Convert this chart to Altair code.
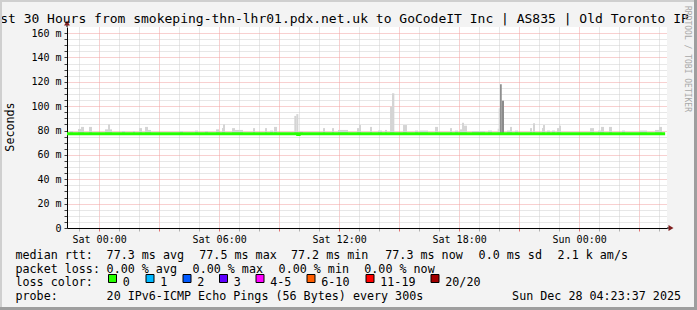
import altair as alt
import pandas as pd

# ---------------- data (hours relative to Sat 00:00, values in ms) ----------------
x_domain = [-1.6064, 28.3936]          # Fri 22:23:37 .. Sun 04:23:37 (30 h)
y_domain = [0, 165]

x_grid_hours = list(range(-1, 29))     # hourly grid / tick positions
x_label_hours = [0, 6, 12, 18, 24]
x_labels = ["Sat 00:00", "Sat 06:00", "Sat 12:00", "Sat 18:00", "Sun 00:00"]

y_grid = list(range(0, 161, 5))
y_label_values = [0, 20, 40, 60, 80, 100, 120, 140, 160]
y_labels = ["0", "20 m", "40 m", "60 m", "80 m", "100 m", "120 m", "140 m", "160 m"]

smoke_start = [-1.455, -1.055, -0.905, -0.505, 0.295, 0.445, 0.545, 1.145, 1.695, 1.995,
               2.295, 2.445, 4.045, 4.795, 5.295, 5.845, 6.145, 6.195, 6.645, 6.795,
               7.695, 8.295, 8.545, 8.745, 9.76, 9.86, 10.045, 11.195, 11.645, 11.945,
               12.895, 12.995, 13.545, 13.945, 14.295, 14.545, 14.645, 15.195, 15.795, 16.045,
               16.795, 17.545, 17.795, 18.045, 18.145, 18.245, 18.645, 19.445, 19.93, 19.98,
               20.045, 20.13, 20.395, 20.545, 20.795, 21.545, 21.695, 22.145, 22.195, 22.395,
               22.645, 22.895, 22.995, 24.545, 24.945, 25.095, 25.495, 26.145, 27.045, 27.795,
               27.995]
smoke_end = [-1.305, -0.905, -0.755, -0.355, 0.445, 0.545, 0.645, 1.295, 1.795, 2.145,
             2.445, 2.595, 4.195, 4.945, 5.445, 5.995, 6.195, 6.295, 6.795, 7.195,
             7.795, 8.395, 8.695, 8.895, 9.86, 9.96, 10.195, 11.295, 11.745, 12.445,
             12.995, 13.095, 13.645, 14.145, 14.395, 14.645, 14.76, 15.395, 15.945, 16.445,
             16.945, 17.645, 17.945, 18.145, 18.245, 18.395, 19.295, 19.645, 19.98, 20.045,
             20.13, 20.245, 20.545, 20.645, 20.945, 21.645, 21.795, 22.195, 22.295, 22.545,
             22.795, 22.995, 23.095, 24.745, 25.095, 25.245, 25.645, 26.295, 27.395, 27.995,
             28.145]
smoke_top = [79.6, 81.3, 83, 83, 81, 85, 81, 79.6, 79.6, 82,
             83, 80.5, 79.5, 80, 79.5, 81, 82, 85, 82, 80.5,
             82, 82, 80, 83, 92, 93.5, 79, 82, 82, 80.5,
             82, 84.5, 83, 80, 80.5, 99.6, 110.6, 84.5, 80, 80,
             83, 82, 80, 81, 86.4, 84, 79.5, 80, 81.5, 98.3,
             118, 104.5, 80, 83, 80, 82, 86, 82, 84.5, 80,
             80, 82, 84, 82, 80, 83, 83, 80, 80, 80.5,
             83]
smoke_shade = ["light"] * 50 + ["dark", "dark"] + ["light"] * 19
smoke_floor = 77.0

median_t = [-1.6064, 9.93, 10.0, 28.30]
median_v = [77.3, 76.8, 77.3, 77.3]

title_text = "Last 30 Hours from smokeping-thn-lhr01.pdx.net.uk to GoCodeIT Inc | AS835 | Old Toronto IP"
rtt_row = ["median rtt:", "77.3 ms avg", "77.5 ms max", "77.2 ms min", "77.3 ms now", "0.0 ms sd", "2.1 k am/s"]
loss_row = ["packet loss:", "0.00 % avg", "0.00 % max", "0.00 % min", "0.00 % now"]
loss_labels = ["0", "1", "2", "3", "4-5", "6-10", "11-19", "20/20"]
loss_colors = ["#26ff00", "#00b8ff", "#0059ff", "#5e00ff", "#ff00ff", "#ff5e00", "#ff0000", "#a10000"]
probe_row = ["probe:", "20 IPv6-ICMP Echo Pings (56 Bytes) every 300s"]
stamp = "Sun Dec 28 04:23:37 2025"

# ---------------- layout ----------------
OX, OY = 67, 27
W, H = 600, 201
FONT = "DejaVu Sans Mono"

x_scale = alt.Scale(domain=x_domain, nice=False, zero=False)
y_scale = alt.Scale(domain=y_domain, nice=False, zero=False)


def chain_expr(vals, labs):
    e = "''"
    for v, l in reversed(list(zip(vals, labs))):
        e = f"datum.value === {v} ? '{l}' : ({e})"
    return e


x_axis = alt.Axis(values=x_grid_hours, labelExpr=chain_expr(x_label_hours, x_labels),
                  grid=True, gridDash=[1, 1], gridWidth=1,
                  gridColor={"condition": {"test": "datum.value % 3 === 0", "value": "#f0a0a0"}, "value": "#cfcfcf"},
                  tickColor={"condition": {"test": "datum.value % 3 === 0", "value": "#e07070"}, "value": "#b0b0b0"},
                  tickSize=3, domainColor="#000000", labelFont=FONT, labelFontSize=10, labelColor="#000000",
                  labelPadding=3, labelFlush=False, labelOverlap=False, labelAngle=0, title=None)
y_axis = alt.Axis(values=y_grid, labelExpr=chain_expr(y_label_values, y_labels),
                  grid=True, gridDash=[1, 1], gridWidth=1,
                  gridColor={"condition": {"test": "datum.value % 20 === 0", "value": "#f0a0a0"}, "value": "#cfcfcf"},
                  tickColor="#404040", tickSize=3, domainColor="#000000", labelFont=FONT, labelFontSize=10,
                  labelColor="#000000", labelPadding=3, labelOverlap=False, labelFlush=False, title=None)

smoke_df = pd.DataFrame({"start": smoke_start, "end": smoke_end, "top": smoke_top,
                         "low": [smoke_floor] * len(smoke_top), "shade": smoke_shade})
smoke = alt.Chart(smoke_df).mark_rect().encode(
    x=alt.X("start:Q", scale=x_scale, axis=x_axis), x2="end:Q",
    y=alt.Y("low:Q", scale=y_scale, axis=y_axis), y2="top:Q",
    color=alt.Color("shade:N", scale=alt.Scale(domain=["light", "dark"], range=["#d4d4d4", "#8c8c8c"]), legend=None),
)

med_df = pd.DataFrame({"t": median_t, "v": median_v})
median = alt.Chart(med_df).mark_line(color="#26ff00", strokeWidth=3, interpolate="step-after", strokeCap="butt").encode(
    x=alt.X("t:Q", scale=x_scale, axis=x_axis), y=alt.Y("v:Q", scale=y_scale, axis=y_axis))

one = pd.DataFrame({"a": [0]})
x_ext = alt.Chart(one).mark_rule(color="#000000", x2Offset=2).encode(
    x=alt.X(datum=x_domain[1], scale=x_scale, axis=x_axis), x2=alt.X2(datum=x_domain[1]),
    y=alt.Y(datum=0, scale=y_scale, axis=y_axis))
x_arrow = alt.Chart(one).mark_point(shape="triangle-right", filled=True, size=34, color="#7f1f1f", opacity=1, xOffset=4).encode(
    x=alt.X(datum=x_domain[1], scale=x_scale, axis=x_axis), y=alt.Y(datum=0, scale=y_scale, axis=y_axis))
y_ext = alt.Chart(one).mark_rule(color="#000000", y2Offset=-3).encode(
    x=alt.X(datum=x_domain[0], scale=x_scale, axis=x_axis),
    y=alt.Y(datum=y_domain[1], scale=y_scale, axis=y_axis), y2=alt.Y2(datum=y_domain[1]))
y_arrow = alt.Chart(one).mark_point(shape="triangle-up", filled=True, size=34, color="#7f1f1f", opacity=1, yOffset=-4).encode(
    x=alt.X(datum=x_domain[0], scale=x_scale, axis=x_axis), y=alt.Y(datum=y_domain[1], scale=y_scale, axis=y_axis))

layers = [smoke, median, x_ext, x_arrow, y_ext, y_arrow]


def txt(s, px, py, size=11.7, align="left", angle=0, color="#000000", baseline="alphabetic"):
    return alt.Chart(pd.DataFrame({"t": [s]})).mark_text(
        align=align, baseline=baseline, font=FONT, fontSize=size, color=color, angle=angle).encode(
        x=alt.value(px - OX), y=alt.value(py - OY), text="t:N")


def box(px0, py0, px1, py1, fill, stroke=None):
    kw = dict(fill=fill)
    if stroke:
        kw.update(stroke=stroke, strokeWidth=1)
    return alt.Chart(one).mark_rect(**kw).encode(
        x=alt.value(px0 - OX), x2=alt.value(px1 - OX), y=alt.value(py0 - OY), y2=alt.value(py1 - OY))


layers.append(txt(title_text, -15.5, 22.7, size=13))
layers.append(txt("Seconds", 14, 127, angle=270, align="center"))
layers.append(txt("RRDTOOL / TOBI OETIKER", 685, 59, size=8, angle=90, align="center", color="#a8a8a8"))

# frame
layers += [box(0, 0, 697, 2, "#cfcfcf"), box(0, 0, 2, 310, "#cfcfcf"),
           box(694, 0, 697, 310, "#9e9e9e"), box(0, 307, 697, 310, "#9e9e9e")]

rtt_x = [15.5, 106.6, 199.3, 291, 385.3, 478.6, 557.6]
for s, px in zip(rtt_row, rtt_x):
    layers.append(txt(s, px, 258.7))
loss_x = [15.5, 106.6, 192.6, 278.6, 364.3]
for s, px in zip(loss_row, loss_x):
    layers.append(txt(s, px, 272.5))
layers.append(txt("loss color:", 15.5, 286.3))
box_x = [108.5, 146, 183, 219.5, 256, 307, 366, 431]
for lab, col, bx in zip(loss_labels, loss_colors, box_x):
    layers.append(box(bx, 274.5, bx + 8, 282.5, col, stroke="#000000"))
    layers.append(txt(lab, bx + 14.3, 286.3))
layers.append(txt(probe_row[0], 15.5, 300))
layers.append(txt(probe_row[1], 106.6, 300))
layers.append(txt(stamp, 681, 300, align="right"))

chart = alt.layer(*layers).properties(
    width=W, height=H,
    padding={"left": OX, "top": OY, "right": 697 - OX - W, "bottom": 310 - OY - H},
    autosize=alt.AutoSizeParams(type="none"),
).configure(background="#f3f3f3").configure_view(fill="#ffffff", stroke=None)

chart.save("out.html", embed_options={"renderer": "svg", "actions": False})
